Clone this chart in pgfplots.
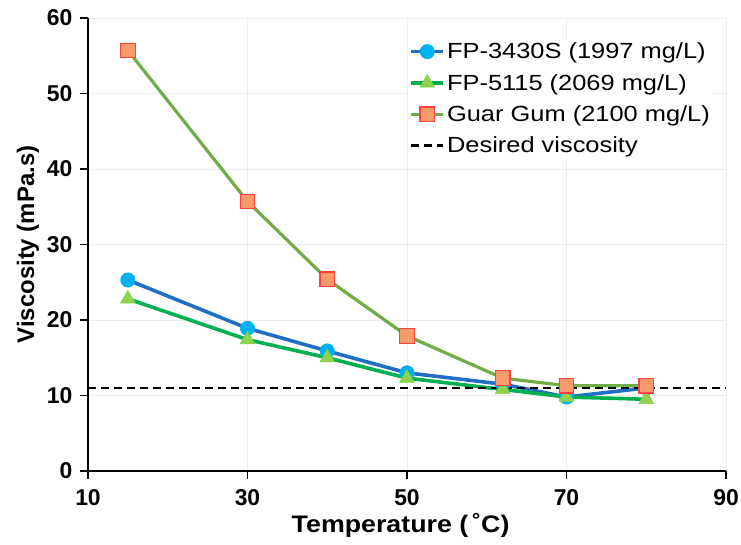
\documentclass[border=0pt]{standalone}
\usepackage{pgfplots}
\pgfplotsset{compat=1.18}
\usepackage{fontspec}
\setmainfont{Liberation Sans}
\newfontfamily\legfont[FakeStretch=1.16]{Liberation Sans}
\newfontfamily\xlabfont[FakeStretch=1.12]{Liberation Sans}
\definecolor{blueL}{HTML}{1F6FC4}
\definecolor{blueM}{HTML}{00B0F0}
\definecolor{greenL}{HTML}{00B050}
\definecolor{greenM}{HTML}{92D050}
\definecolor{oliveL}{HTML}{70AD47}
\definecolor{orangeM}{HTML}{F79B6B}
\definecolor{redE}{HTML}{FF4040}
\begin{document}
\begin{tikzpicture}[x=1bp,y=1bp]
\begin{axis}[
  at={(0,0)}, anchor=south west,
  scale only axis,
  width=638bp, height=453bp,
  xmin=10, xmax=90, ymin=0, ymax=60,
  xtick={10,30,50,70,90}, ytick={0,10,...,60},
  axis lines=left,
  axis line style={-, line width=1.6pt},
  tick style={black, line width=1.6pt},
  tick align=outside,
  major tick length=8bp,
  xtick pos=bottom, ytick pos=left,
  grid=major,
  grid style={gray!15, line width=0.9pt},
  /pgf/number format/assume math mode=true,
  ticklabel style={font=\fontsize{23}{25}\selectfont\bfseries},
  xticklabel style={yshift=-7bp},
  yticklabel style={xshift=-4bp},
  xlabel={\xlabfont\bfseries Temperature (\,˚C)},
  ylabel={Viscosity (mPa.s)},
  label style={font=\fontsize{24}{26}\selectfont\bfseries},
  xlabel style={at={(axis description cs:0.49,-0.119)}, anchor=center},
  ylabel style={at={(axis description cs:-0.094,0.5)}, anchor=center},
  legend style={draw=none, fill=white, at={(0.502,0.952)}, anchor=north west,
    font=\fontsize{22}{26}\selectfont\legfont, row sep=10bp, inner sep=1bp,
    /tikz/every even column/.append style={column sep=2bp}},
  legend cell align=left,
  legend image code/.code={
    \draw[#1] (0bp,0bp) -- (32bp,0bp);
    \draw[#1,only marks] plot coordinates {(16bp,0bp)};
  },
]
\addplot[blueL, line width=3.6pt, mark=*, mark size=7.2bp, mark options={fill=blueM, draw=blueM, line width=0.5pt}]
  coordinates {(15,25.3) (30,18.9) (40,15.9) (50,13.0) (62,11.5) (70,9.8) (80,11.0)};
\addlegendentry{FP-3430S (1997 mg/L)}
\addplot[greenL, line width=3.6pt, mark=triangle*, mark size=8.5bp, mark options={fill=greenM, draw=greenM!80!green, line width=0.5pt}]
  coordinates {(15,22.8) (30,17.4) (40,15.0) (50,12.3) (62,10.8) (70,9.8) (80,9.5)};
\addlegendentry{FP-5115 (2069 mg/L)}
\addplot[oliveL, line width=3.2pt, mark=square*, mark size=7.3bp, mark options={fill=orangeM, draw=redE, line width=1.2pt}]
  coordinates {(15,55.7) (30,35.7) (40,25.4) (50,17.9) (62,12.3) (70,11.3) (80,11.3)};
\addlegendentry{Guar Gum (2100 mg/L)}
\addplot[black, line width=2.7pt, dash pattern=on 8bp off 5bp, mark=none]
  coordinates {(10,11) (90,11)};
\addlegendentry{Desired viscosity}
\end{axis}
\pgfresetboundingbox
\path (-88,-74) rectangle (653,471);
\end{tikzpicture}
\end{document}
